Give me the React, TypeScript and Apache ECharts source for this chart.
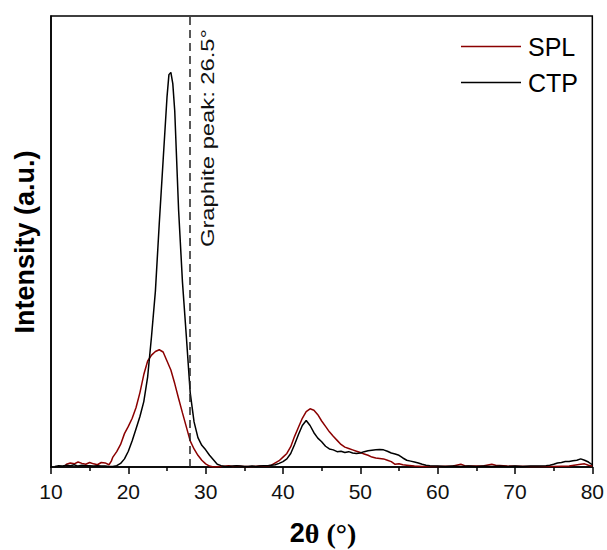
import React, { useEffect, useRef } from "react";
import * as echarts from "echarts";

const seriesNames = ["SPL", "CTP"];
const seriesColors = ["#8b0000", "#000000"];

const splData: number[][] = [
  [11.8,0.2],[12,0.6],[12.5,0.9],[13,0.7],[13.5,1.1],[14,0.8],[14.5,0.6],[15,1],[15.5,0.7],[16,0.5],[16.5,1],[17,0.9],[17.5,0.5],[17.8,1.3],
  [18,2.2],[18.5,3.4],[19,5],[19.5,7.4],[20,9],[20.5,10.8],[21,13.2],[21.5,16.5],[22,20.5],[22.5,23.5],[23,24.8],[23.5,25.6],[24,26],[24.5,25.5],
  [25,23.5],[25.5,21.5],[26,18.5],[26.5,15.2],[27,12],[27.5,8.9],[28,5.8],[28.5,4],[29,2.6],[29.5,1.5],[30,0.7],[30.5,0.2],[31,0],[32,0.1],
  [33,0.3],[33.5,0.1],[34,0.2],[35,0.1],[36,0.1],[37,0.2],[38,0.2],[38.5,0.4],[39,0.9],[39.5,1.4],[40,2.2],[40.5,3],[41,4.5],[41.5,6.8],
  [42,8.8],[42.5,10.8],[43,12.3],[43.5,12.9],[44,12.6],[44.5,11.6],[45,10.2],[45.5,9],[46,7.8],[46.5,6.8],[47,5.9],[47.5,5],[48,4.4],[48.5,4.1],
  [49,3.8],[49.5,3.5],[50,3.2],[50.5,2.9],[51,2.6],[51.5,2.2],[52,2],[52.5,1.9],[53,1.8],[53.5,1.5],[54,1.2],[54.5,0.6],[55,0.7],[55.5,0.5],
  [56,0.4],[57,0.2],[58,0.1],[60,0.1],[62,0.2],[63,0.6],[63.5,0.3],[65,0.2],[66,0.3],[67,0.6],[67.5,0.4],[69,0.2],[72,0.1],[75,0.1],
  [77,0.2],[78.5,0.6],[79,0.7],[79.5,0.4],[80,0.2]
];

const ctpData: number[][] = [
  [10.5,0.1],[11,0.3],[11.5,0.2],[12,0.4],[12.5,0.3],[13,0.5],[13.5,0.2],[14,0.4],[14.5,0.3],[15,0.3],[15.5,0.2],[16,0.3],[16.5,0.2],[17,0.2],
  [17.5,0.1],[18,0.1],[18.5,0.3],[19,0.8],[19.5,1.8],[20,3.5],[20.5,5.8],[21,8.5],[21.5,11.2],[22,14.5],[22.5,20],[23,29],[23.5,39],[24,54],
  [24.5,68],[25,82],[25.25,87],[25.5,87.5],[25.75,85],[26,79],[26.5,57],[27,41],[27.5,29],[28,16.5],[28.5,10],[29,6.5],[29.5,4.8],[30,3.8],
  [30.5,2.6],[31,1.6],[31.5,0.6],[32,0.3],[32.5,0.1],[33,0.1],[33.5,0.2],[34,0.3],[34.5,0.2],[35,0.1],[35.5,0.1],[36,0.2],[36.5,0.1],[37,0.2],
  [37.5,0.3],[38,0.3],[38.5,0.4],[39,0.5],[39.5,0.8],[40,1.2],[40.5,1.8],[41,3],[41.5,5],[42,7.2],[42.5,9.2],[43,10.3],[43.5,9.2],[44,7.6],
  [44.5,6.4],[45,5.6],[45.5,4.6],[46,4],[46.5,3.8],[47,3.4],[47.5,3.5],[48,3.2],[48.5,3.4],[49,3.1],[49.5,3],[50,3.1],[50.5,3.4],[51,3.6],
  [51.5,3.7],[52,3.8],[52.5,3.9],[53,3.8],[53.5,3.5],[54,3.1],[54.5,2.9],[55,2.6],[55.5,2],[56,1.5],[56.5,1.3],[57,1.1],[57.5,0.9],[58,0.6],
  [58.5,0.4],[59,0.3],[60,0.2],[61,0.1],[62,0.2],[63,0.1],[64,0.2],[65,0.1],[66,0.2],[67,0.1],[68,0.2],[69,0.1],[70,0.2],[71,0.1],[72,0.2],
  [73,0.2],[74,0.3],[74.5,0.4],[75,0.6],[75.5,0.9],[76,1],[76.5,1.2],[77,1.2],[77.5,1.4],[78,1.5],[78.5,1.8],[79,1.5],[79.5,1.1],[80,0.5]
];

const graphitePeakX = 27.9;
const graphiteLabel = "Graphite peak: 26.5°";
const xAxisMin = 10;
const xAxisMax = 80;
const xAxisInterval = 10;

export default function App() {
  const ref = useRef<HTMLDivElement>(null);
  useEffect(() => {
    document.body.style.margin = "0";
    if (!ref.current) return;
    const chart = echarts.init(ref.current, null, { renderer: "svg" });
    const sans = "'Liberation Sans', Arial, sans-serif";
    chart.setOption({
      animation: false,
      backgroundColor: "#ffffff",
      grid: {
        left: 51,
        right: 12,
        top: 16,
        bottom: 83,
        show: true,
        borderColor: "#000",
        borderWidth: 1.5,
        backgroundColor: "transparent",
      },
      legend: {
        orient: "vertical",
        left: 456,
        top: 29,
        itemWidth: 60,
        itemHeight: 1.5,
        itemGap: 11,
        icon: "rect",
        data: seriesNames,
        textStyle: { fontFamily: sans, fontSize: 25, color: "#000", lineHeight: 24, padding: [0, 0, 0, 2] },
      },
      xAxis: {
        type: "value",
        min: xAxisMin,
        max: xAxisMax,
        interval: xAxisInterval,
        splitLine: { show: false },
        axisLine: { show: true, lineStyle: { color: "#000", width: 1.5 } },
        axisTick: { show: true, inside: false, length: 7, lineStyle: { color: "#000", width: 1.5 } },
        minorTick: { show: true, splitNumber: 2, length: 4, lineStyle: { color: "#000", width: 1.5 } },
        axisLabel: { fontFamily: sans, fontSize: 21, color: "#111", margin: 14 },
      },
      yAxis: {
        type: "value",
        min: 0,
        max: 100,
        splitLine: { show: false },
        axisLine: { show: true, lineStyle: { color: "#000", width: 1.5 } },
        axisTick: { show: false },
        axisLabel: { show: false },
      },
      series: [
        {
          name: seriesNames[0],
          type: "line",
          data: splData,
          symbol: "none",
          color: seriesColors[0],
          lineStyle: { width: 1.5, color: seriesColors[0] },
          markLine: {
            silent: true,
            symbol: ["none", "none"],
            label: { show: false },
            lineStyle: { color: "#222", type: [8, 5], width: 1.5 },
            data: [{ xAxis: graphitePeakX }],
          },
        },
        {
          name: seriesNames[1],
          type: "line",
          data: ctpData,
          symbol: "none",
          color: seriesColors[1],
          lineStyle: { width: 1.5, color: seriesColors[1] },
        },
      ],
      graphic: [
        {
          type: "text",
          x: 208,
          y: 138,
          rotation: Math.PI / 2,
          scaleX: 1.25,
          style: {
            text: graphiteLabel,
            fontFamily: sans,
            fontSize: 19,
            fill: "#111",
            align: "center",
            verticalAlign: "middle",
          },
        },
        {
          type: "text",
          x: 25,
          y: 242,
          rotation: Math.PI / 2,
          style: {
            text: "Intensity (a.u.)",
            fontFamily: sans,
            fontSize: 27,
            fontWeight: "bold",
            fill: "#000",
            align: "center",
            verticalAlign: "middle",
          },
        },
        {
          type: "text",
          x: 323,
          y: 533,
          style: {
            text: "{a|2}{b|θ (°)}",
            align: "center",
            verticalAlign: "middle",
            rich: {
              a: { fontFamily: sans, fontSize: 27, fontWeight: "bold", fill: "#000" },
              b: { fontFamily: "'Liberation Serif', 'Times New Roman', serif", fontSize: 28, fontWeight: "bold", fill: "#000" },
            },
          },
        },
      ],
    });
    return () => chart.dispose();
  }, []);
  return <div ref={ref} style={{ width: 607, height: 550 }} />;
}
